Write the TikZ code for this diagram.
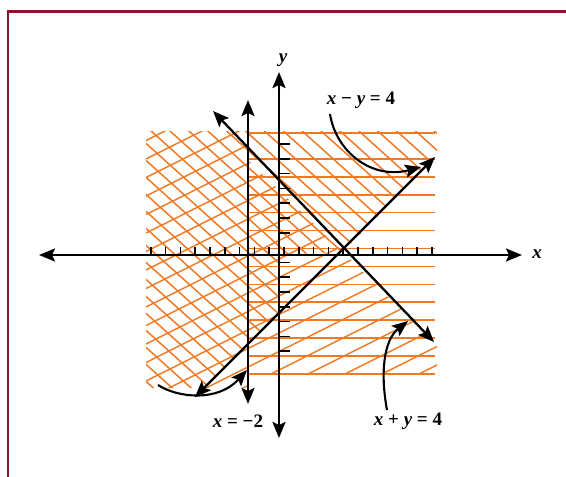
\documentclass[tikz,border=0pt]{standalone}
\usepackage{xcolor}
\usepackage{tikz}
\usepackage{fontspec}
\usetikzlibrary{arrows.meta}
\newfontfamily\labelfamily{Liberation Serif}
\definecolor{hatchorange}{RGB}{240,122,36}
\definecolor{framered}{RGB}{135,22,45}

\begin{document}
\begin{tikzpicture}[x=1pt, y=-1pt,
    hatch/.style={hatchorange, line width=1.5pt},
    tickmark/.style={black, line width=1.6pt},
    bigtip/.tip={Stealth[length=16pt,width=13pt,inset=3pt]},
    twoway/.style={line width=2.3pt, bigtip-bigtip},
    pointer/.style={line width=2.1pt, -bigtip},
    lbl/.style={font=\labelfamily\fontsize{19}{21}\selectfont\bfseries}]
        \useasboundingbox (0,0) rectangle (566,477);

        % Frame
        \draw[framered, line width=2.6pt] (8,477) -- (8,11.5) -- (570,11.5);

        % Hatching for x - y <= 4
        \begin{scope}
            \clip (146,131) -- (437,131) -- (437,155) -- (343,252) -- (279,255) -- (279,313) -- (248,344) -- (204,388) -- (146,388) -- cycle;
            \foreach \c in {-260,-243,...,290}
                \draw[hatch] (140,{0.9*140+\c}) -- (440,{0.9*440+\c});
        \end{scope}

        % Hatching for x + y <= 4
        \begin{scope}
            \clip (146,131) -- (248,131) -- (248,160) -- (343,252) -- (437,345) -- (437,374) -- (248,374) -- (248,388) -- (146,388) -- cycle;
            \foreach \c in {195,213.5,...,630}
                \draw[hatch] (140,{\c-70}) -- (440,{\c-220});
        \end{scope}

        % Hatching for x >= -2
        \draw[hatch] (248,133) -- (435,133);
        \foreach \k in {0,...,12}
            \draw[hatch] (248,{159+17.9*\k}) -- (435,{159+17.9*\k});

        % Ticks
        \foreach \k in {0,...,19}
            \draw[tickmark] ({150.7+14.8*\k},255) -- ++(0,-8);
        \foreach \k in {0,...,6}
            \draw[tickmark] (279,{144+14.8*\k}) -- ++(11,0);
        \foreach \k in {8,...,14}
            \draw[tickmark] (279,{144+14.8*\k}) -- ++(11,0);

        % Axes
        \coordinate (xl) at (39,255);
        \coordinate (xr) at (522,255);
        \coordinate (yb) at (279,438);
        \coordinate (yt) at (279,72);
        \draw[twoway] (xl) -- (xr);
        \draw[twoway] (yb) -- (yt);
        \node[lbl] (xlab) at (537,254) {\itshape x};
        \node[lbl] (ylab) at (283,60) {\itshape y};

        % Boundary lines
        \coordinate (vb) at (248,404);
        \coordinate (vt) at (248,100);
        \coordinate (p1) at (195,397);
        \coordinate (p2) at (435,157);
        \coordinate (q1) at (213,111);
        \coordinate (q2) at (434,342);
        \draw[twoway] (vb) -- (vt);
        \draw[twoway] (p1) -- (p2);
        \draw[twoway] (q1) -- (q2);

        % Labels
        \node[lbl] (lminus) at (361,100) {\textit{x} − \textit{y} = 4};
        \node[lbl] (lplus) at (408,421) {\textit{x} + \textit{y} = 4};
        \node[lbl] (lvert) at (238,421) {\textit{x} = −2};

        % Pointers
        \coordinate (s1) at (330,114);
        \coordinate (e1) at (421,167);
        \coordinate (s2) at (387,410);
        \coordinate (e2) at (408,321);
        \coordinate (s3) at (158,385);
        \coordinate (e3) at (247,370);
        \draw[pointer] (s1) .. controls (336,152) and (372,180) .. (e1);
        \draw[pointer] (s2) .. controls (380,372) and (384,340) .. (e2);
        \draw[pointer] (s3) .. controls (178,398) and (218,402) .. (e3);
    \end{tikzpicture}
\end{document}
